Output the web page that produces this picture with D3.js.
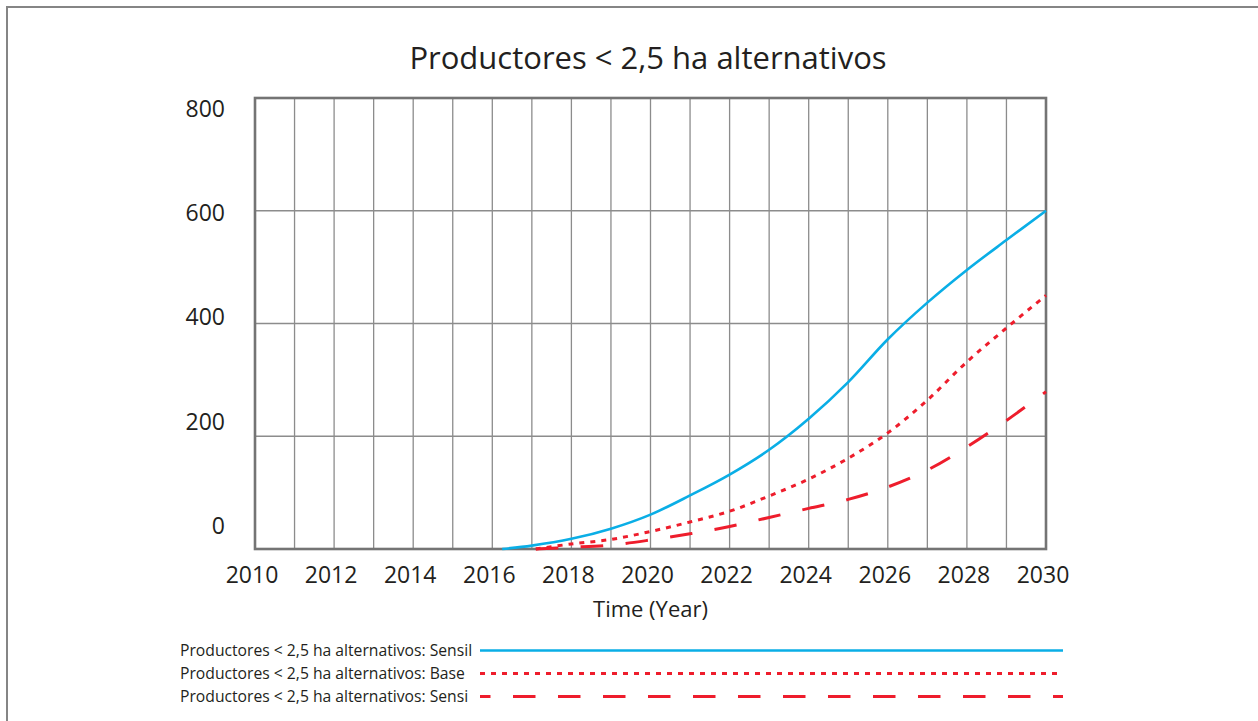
<!DOCTYPE html>
<html>
<head>
<meta charset="utf-8">
<script src="https://cdn.jsdelivr.net/npm/d3@7"></script>
<style>
  body { margin: 0; background: #fff; }
  svg { display: block; font-family: "Open Sans", sans-serif; }
</style>
</head>
<body>
<div id="chart"></div>
<script>
// series values
var sensilYears = [2016.25, 2017, 2018, 2019, 2020, 2021, 2022, 2023, 2024, 2025, 2026, 2027, 2028, 2029, 2030];
var sensilValues = [0, 6, 18, 36, 61, 95, 132, 176, 231, 296, 372, 437, 495, 548, 600];

var baseYears = [2017.1, 2018, 2019, 2020, 2021, 2022, 2023, 2024, 2025, 2026, 2027, 2028, 2029, 2030];
var baseValues = [0, 9, 17, 31, 48, 67, 94, 124, 161, 206, 264, 332, 392, 450];

var sensiYears = [2017.1, 2018, 2019, 2020, 2021, 2022, 2023, 2024, 2025, 2026, 2027, 2028, 2029, 2030];
var sensiValues = [0, 3, 7, 16, 27, 40, 56, 72, 88, 110, 140, 181, 228, 279];

var xTicks = [2010, 2012, 2014, 2016, 2018, 2020, 2022, 2024, 2026, 2028, 2030];
var yTicks = [0, 200, 400, 600, 800];
var seriesNames = [
    "Productores < 2,5 ha alternativos: Sensil",
    "Productores < 2,5 ha alternativos: Base",
    "Productores < 2,5 ha alternativos: Sensi"
];

var width = 1258, height = 721;
var plot = { left: 255, right: 1046, top: 98, bottom: 549 };

var svg = d3.select("#chart").append("svg")
    .attr("width", width)
    .attr("height", height);

// outer frame (only top and left edges show)
svg.append("path")
    .attr("d", "M7," + height + "V7H" + width)
    .attr("fill", "none")
    .attr("stroke", "#858585")
    .attr("stroke-width", 2);

var x = d3.scaleLinear().domain([2010, 2030]).range([plot.left, plot.right]);
var y = d3.scaleLinear().domain([0, 800]).range([plot.bottom, plot.top]);
// the value labels sit a bit tighter than the grid
var yLabel = d3.scaleLinear().domain([0, 800]).range([526, 108.5]);

// vertical grid, one per year
svg.append("g")
    .selectAll("line")
    .data(d3.range(2011, 2030))
    .enter()
    .append("line")
    .attr("x1", (d) => x(d)).attr("x2", (d) => x(d))
    .attr("y1", plot.top).attr("y2", plot.bottom)
    .attr("stroke", "#8c8c8c")
    .attr("stroke-width", 1.3);

// horizontal grid
svg.append("g")
    .selectAll("line")
    .data(yTicks.slice(1, -1))
    .enter()
    .append("line")
    .attr("x1", plot.left).attr("x2", plot.right)
    .attr("y1", (d) => y(d)).attr("y2", (d) => y(d))
    .attr("stroke", "#8c8c8c")
    .attr("stroke-width", 1.3);

// plot frame
svg.append("rect")
    .attr("x", plot.left)
    .attr("y", plot.top)
    .attr("width", plot.right - plot.left)
    .attr("height", plot.bottom - plot.top)
    .attr("fill", "none")
    .attr("stroke", "#747474")
    .attr("stroke-width", 2.6);

// axis labels
svg.append("g")
    .selectAll("text")
    .data(yTicks)
    .enter()
    .append("text")
    .attr("x", 225)
    .attr("y", (d) => yLabel(d))
    .attr("dy", "0.35em")
    .attr("text-anchor", "end")
    .style("font-size", "23px")
    .style("fill", "#231f20")
    .text((d) => d);

svg.append("g")
    .selectAll("text")
    .data(xTicks)
    .enter()
    .append("text")
    .attr("x", (d) => x(d) - 3)
    .attr("y", 583)
    .attr("text-anchor", "middle")
    .style("font-size", "23px")
    .style("fill", "#231f20")
    .text((d) => d);

svg.append("text")
    .attr("x", (plot.left + plot.right) / 2)
    .attr("y", 617)
    .attr("text-anchor", "middle")
    .style("font-size", "22px")
    .style("fill", "#231f20")
    .text("Time (Year)");

svg.append("text")
    .attr("x", 648)
    .attr("y", 69)
    .attr("text-anchor", "middle")
    .style("font-size", "31px")
    .style("fill", "#231f20")
    .text("Productores < 2,5 ha alternativos");

// series
var series = [
    { name: seriesNames[0], years: sensilYears, values: sensilValues, color: "#0aaee6", width: 2.6, dash: null, offset: 0 },
    { name: seriesNames[1], years: baseYears, values: baseValues, color: "#ee1d2c", width: 3, dash: "5,6", offset: 0 },
    { name: seriesNames[2], years: sensiYears, values: sensiValues, color: "#ee1d2c", width: 3, dash: "22.5,22.5", offset: 12 }
];

var line = d3.line()
    .x((d) => x(d[0]))
    .y((d) => y(d[1]))
    .curve(d3.curveCatmullRom.alpha(0.5));

svg.append("g")
    .selectAll("path")
    .data(series)
    .enter()
    .append("path")
    .attr("d", (s) => line(d3.zip(s.years, s.values)))
    .attr("fill", "none")
    .attr("stroke", (s) => s.color)
    .attr("stroke-width", (s) => s.width)
    .attr("stroke-dasharray", (s) => s.dash);

// legend
var legend = svg.append("g")
    .selectAll("g")
    .data(series)
    .enter()
    .append("g")
    .attr("transform", (d, i) => "translate(0," + (650.5 + i * 23) + ")");

legend.append("text")
    .attr("x", 180)
    .attr("dy", "0.35em")
    .style("font-size", "15.7px")
    .style("fill", "#231f20")
    .text((d) => d.name);

legend.append("line")
    .attr("x1", 480).attr("x2", 1063)
    .attr("stroke", (d) => d.color)
    .attr("stroke-width", (d) => d.width)
    .attr("stroke-dasharray", (d) => d.dash)
    .attr("stroke-dashoffset", (d) => d.offset);
</script>
</body>
</html>
